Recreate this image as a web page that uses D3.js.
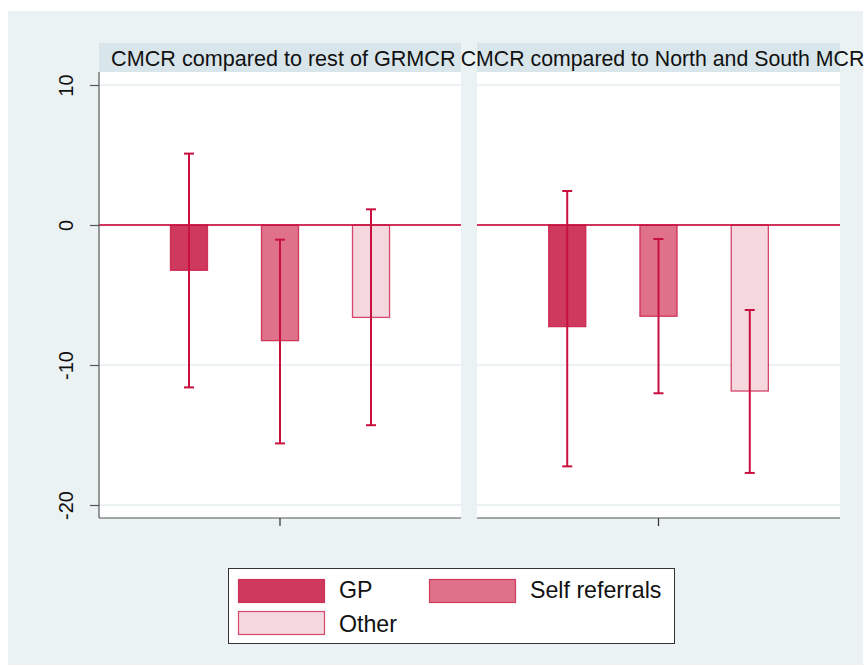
<!DOCTYPE html>
<html><head><meta charset="utf-8">
<script src="https://cdn.jsdelivr.net/npm/d3@7"></script>
<style>html,body{margin:0;padding:0;background:#fff;}svg{display:block;font-family:"Liberation Sans",Arial,sans-serif;}</style>
</head><body>
<script>
// ---- data ----
const panels = ["CMCR compared to rest of GRMCR", "CMCR compared to North and South MCR"];
const categories = ["GP", "Self referrals", "Other"];
const meanValues = [[-3.24, -8.26, -6.6], [-7.26, -6.52, -11.86]];
const lowerCI = [[-11.6, -15.6, -14.3], [-17.24, -12.02, -17.71]];
const upperCI = [[5.1, -1.05, 1.12], [2.43, -1.0, -6.07]];
const yTicks = [-20, -10, 0, 10];
const legendOrder = ["GP", "Self referrals", "Other"];

// ---- style ----
const W = 864, H = 666;
const fills = {"GP": "#cf395d", "Self referrals": "#df718a", "Other": "#f5d8de"};
const strokeC = "#c8103f";
const bg = "#eaf2f3", headerBg = "#d8e5ea", gridC = "#eaf2f3";

const svg = d3.select("body").append("svg").attr("width", W).attr("height", H);
svg.append("rect").attr("x", 8).attr("y", 11).attr("width", 855).attr("height", 654).attr("fill", bg);

const y = d3.scaleLinear().domain([-20, 10]).range([505, 85]);
const plotTop = 72, plotBottom = 518;
const panelX = [[99, 461], [477, 840]];
const headerCenters = [283.3, 662.5];

panels.forEach((title, p) => {
  const [x0, x1] = panelX[p];
  const g = svg.append("g");
  g.append("rect").attr("x", x0).attr("y", 43).attr("width", x1 - x0).attr("height", 29).attr("fill", headerBg);
  g.append("rect").attr("x", x0).attr("y", plotTop).attr("width", x1 - x0).attr("height", plotBottom - plotTop).attr("fill", "#fff");
  g.selectAll(".grid").data(yTicks.filter(t => t !== 0)).join("line")
    .attr("x1", x0).attr("x2", x1).attr("y1", d => y(d)).attr("y2", d => y(d))
    .attr("stroke", gridC).attr("stroke-width", 2);
  const xb = d3.scaleBand().domain(categories).range([x0, x1]).paddingInner(0.593).paddingOuter(0.785);
  g.selectAll(".bar").data(categories).join("rect")
    .attr("x", d => xb(d)).attr("width", xb.bandwidth())
    .attr("y", (d, i) => y(Math.max(0, meanValues[p][i])))
    .attr("height", (d, i) => Math.abs(y(meanValues[p][i]) - y(0)))
    .attr("fill", d => fills[d]).attr("stroke", strokeC).attr("stroke-opacity", 0.75).attr("stroke-width", 1.3);
  g.append("line").attr("x1", x0).attr("x2", x1).attr("y1", y(0)).attr("y2", y(0))
    .attr("stroke", strokeC).attr("stroke-width", 2.2).attr("stroke-opacity", 0.85);
  categories.forEach((c, i) => {
    const cx = xb(c) + xb.bandwidth() / 2;
    g.append("line").attr("x1", cx).attr("x2", cx).attr("y1", y(lowerCI[p][i])).attr("y2", y(upperCI[p][i]))
      .attr("stroke", strokeC).attr("stroke-width", 2);
    [lowerCI[p][i], upperCI[p][i]].forEach(v => {
      g.append("line").attr("x1", cx - 5).attr("x2", cx + 5).attr("y1", y(v)).attr("y2", y(v))
        .attr("stroke", strokeC).attr("stroke-width", 2);
    });
  });
  g.append("line").attr("x1", x0).attr("x2", x1).attr("y1", plotBottom).attr("y2", plotBottom)
    .attr("stroke", "#555").attr("stroke-width", 1.2);
  const mid = (x0 + x1) / 2;
  g.append("line").attr("x1", mid).attr("x2", mid).attr("y1", plotBottom).attr("y2", plotBottom + 8)
    .attr("stroke", "#333").attr("stroke-width", 1.2);
  g.append("text").attr("x", headerCenters[p]).attr("y", 66).attr("text-anchor", "middle")
    .attr("font-size", p === 0 ? 21.6 : 21.3).attr("fill", "#111").text(title);
});

// y axis on first panel
const ax = svg.append("g").attr("transform", "translate(99,0)");
ax.call(d3.axisLeft(y).tickValues(yTicks).tickSize(9).tickPadding(0).tickFormat(d => String(d)));
ax.select(".domain").remove();
ax.append("line").attr("x1", 0).attr("x2", 0).attr("y1", plotTop).attr("y2", plotBottom).attr("stroke", "#555").attr("stroke-width", 1.2);
ax.selectAll(".tick line").attr("stroke", "#555").attr("stroke-width", 1.2);
ax.selectAll(".tick text").attr("font-size", 20).attr("fill", "#111")
  .attr("font-family", "'Liberation Sans',Arial,sans-serif")
  .attr("text-anchor", "middle").attr("dy", 0)
  .attr("transform", "translate(-26,0) rotate(-90)").attr("x", 0).attr("y", 0);

// legend
const lg = svg.append("g");
lg.append("rect").attr("x", 228.5).attr("y", 568.5).attr("width", 446).attr("height", 75)
  .attr("fill", "#fff").attr("stroke", "#333").attr("stroke-width", 1);
const legPos = [[238, 579, 339, 598], [429, 579, 530, 598], [238, 611, 339, 631.5]];
legendOrder.forEach((c, i) => {
  const [sx, sy, tx, ty] = legPos[i];
  lg.append("rect").attr("x", sx + 0.5).attr("y", sy + 0.5).attr("width", 86).attr("height", 23)
    .attr("fill", fills[c]).attr("stroke", strokeC).attr("stroke-opacity", 0.75).attr("stroke-width", 1.2);
  lg.append("text").attr("x", tx).attr("y", ty).attr("font-size", 23.2).attr("fill", "#111").text(c);
});
</script>
</body></html>
